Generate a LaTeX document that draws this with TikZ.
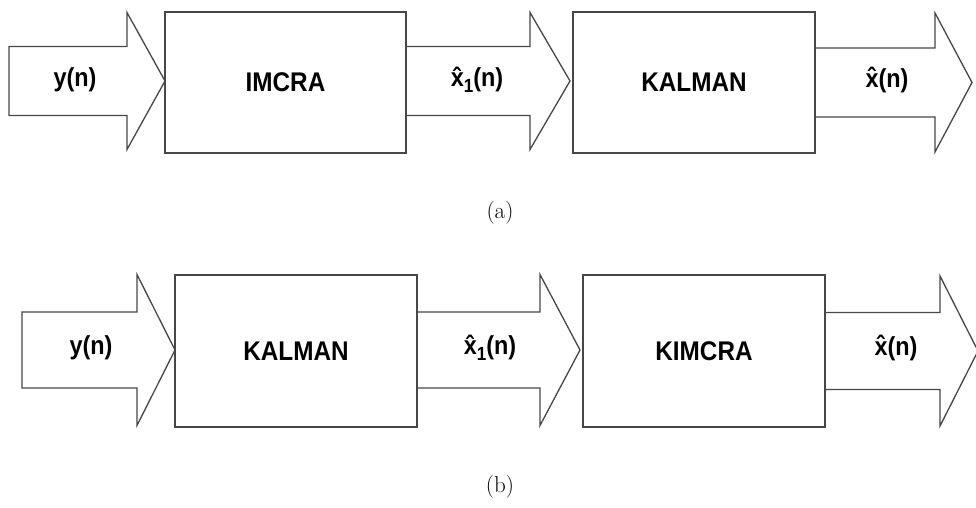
\documentclass[tikz,border=0pt]{standalone}
\usepackage{fontspec}
\newfontfamily\lab{Liberation Sans}[FakeStretch=0.9]
\tikzset{
  line/.style={draw=black!72, line width=1.3pt, line join=miter},
  blockbox/.style={line, fill=white, rectangle, inner sep=0pt, minimum width=241pt, minimum height=141pt, font=\lab\bfseries\fontsize{27}{30}\selectfont},
  lbl/.style={inner sep=0pt, font=\lab\bfseries\fontsize{26}{30}\selectfont},
  captext/.style={inner sep=0pt, font=\fontsize{23}{26}\selectfont},
}
% fat arrow: x-start, x-headback, x-tip, y-center, shaft half, head half
\newcommand\fatarrow[6]{%
  \draw[line] (#1,#4-#5) -- (#2,#4-#5) -- (#2,#4-#6) -- (#3,#4) -- (#2,#4+#6) -- (#2,#4+#5) -- (#1,#4+#5) -- cycle;}
\newcommand\xhat{\^{x}}
\begin{document}
\begin{tikzpicture}[x=1pt,y=-1pt]
\useasboundingbox (0,0) rectangle (976,508);
% ---- (a)
\node[blockbox, minimum width=241pt, minimum height=141pt] (imcra) at (285.5,82.5) {IMCRA};
\node[blockbox, minimum width=242pt, minimum height=141pt] (kalmanA) at (694,82.5) {KALMAN};
\fatarrow{9}{127}{165}{81}{34.5}{68.5}
\fatarrow{406}{530}{570}{81}{34.5}{68.5}
\fatarrow{815}{935}{972}{82.5}{34.5}{69.5}
\node[lbl] (ya) at (75,80) {y(n)};
\node[lbl] (x1a) at (477,80) {\xhat\raisebox{-0.22em}{\fontsize{19}{20}\selectfont 1}(n)};
\node[lbl] (xa) at (887,80) {\xhat(n)};
\node[captext] (capa) at (500,213) {(a)};
% ---- (b)
\node[blockbox, minimum width=242pt, minimum height=152pt] (kalmanB) at (296,351) {KALMAN};
\node[blockbox, minimum width=242pt, minimum height=152pt] (kimcra) at (704,351) {KIMCRA};
\fatarrow{22}{137}{175}{350}{38}{75.5}
\fatarrow{417}{540}{580}{350}{38}{75.5}
\fatarrow{825}{940}{978}{351}{38.5}{75}
\node[lbl] (yb) at (91,348) {y(n)};
\node[lbl] (x1b) at (490,348) {\xhat\raisebox{-0.22em}{\fontsize{19}{20}\selectfont 1}(n)};
\node[lbl] (xb) at (896,348) {\xhat(n)};
\node[captext] (capb) at (500,487) {(b)};
\end{tikzpicture}
\end{document}
